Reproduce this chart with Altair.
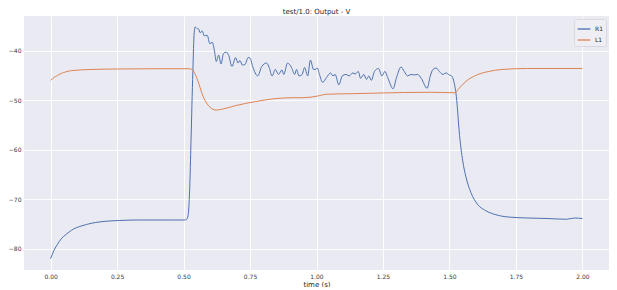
import altair as alt
import pandas as pd

r1_t = [0.000, 0.013, 0.026, 0.040, 0.056, 0.070, 0.087, 0.110, 0.135, 0.170, 0.209, 0.260, 0.330, 0.400,
        0.452, 0.505, 0.511, 0.517, 0.523, 0.528, 0.535, 0.540, 0.544, 0.550, 0.556, 0.563, 0.570, 0.578,
        0.589, 0.599, 0.608, 0.617, 0.623, 0.632, 0.641, 0.650, 0.660, 0.670, 0.682, 0.696, 0.705, 0.712,
        0.721, 0.731, 0.743, 0.750, 0.760, 0.779, 0.794, 0.812, 0.822, 0.833, 0.845, 0.857, 0.870, 0.877,
        0.891, 0.906, 0.918, 0.925, 0.934, 0.946, 0.955, 0.967, 0.977, 0.989, 0.995, 1.003, 1.011, 1.023,
        1.038, 1.053, 1.062, 1.070, 1.084, 1.097, 1.111, 1.123, 1.136, 1.146, 1.157, 1.166, 1.178, 1.188,
        1.197, 1.206, 1.218, 1.233, 1.246, 1.257, 1.269, 1.288, 1.300, 1.318, 1.330, 1.343, 1.355, 1.367,
        1.380, 1.394, 1.416, 1.428, 1.438, 1.450, 1.462, 1.475, 1.487, 1.499, 1.508, 1.516, 1.526, 1.538,
        1.550, 1.562, 1.581, 1.605, 1.636, 1.672, 1.721, 1.794, 1.867, 1.940, 1.971, 2.000]
r1_v = [-82.0, -80.3, -79.1, -78.0, -77.2, -76.6, -76.0, -75.5, -75.1, -74.7, -74.45, -74.3, -74.2, -74.2,
        -74.2, -74.2, -74.1, -73.3, -68.1, -58.4, -44.2, -36.4, -35.2, -35.5, -35.6, -36.4, -36.0, -37.0,
        -36.9, -38.6, -38.3, -40.3, -42.2, -40.9, -42.7, -40.6, -40.3, -41.0, -43.2, -41.4, -42.5, -42.0,
        -42.9, -42.8, -41.4, -41.5, -43.2, -45.1, -43.2, -42.5, -43.4, -45.1, -43.8, -44.8, -43.9, -44.8,
        -42.5, -43.4, -44.8, -43.8, -45.1, -44.8, -43.4, -45.1, -41.9, -43.8, -43.8, -43.5, -44.8, -46.4,
        -45.4, -44.5, -45.1, -44.8, -46.9, -45.1, -44.8, -45.1, -44.5, -44.7, -44.2, -45.6, -44.8, -45.8,
        -45.1, -46.0, -44.2, -43.6, -45.1, -44.2, -45.6, -47.7, -45.6, -43.3, -44.2, -45.1, -44.8, -44.9,
        -44.8, -45.6, -47.6, -45.1, -43.8, -43.5, -44.2, -44.8, -44.5, -44.9, -45.1, -46.1, -49.3, -57.1,
        -62.3, -65.5, -68.7, -71.0, -72.3, -73.1, -73.6, -73.8, -73.9, -74.05, -73.8, -73.9]

l1_t = [0.000, 0.013, 0.026, 0.040, 0.056, 0.070, 0.087, 0.148, 0.260, 0.400, 0.520, 0.532, 0.549, 0.574,
        0.599, 0.623, 0.647, 0.696, 0.769, 0.843, 0.916, 0.950, 1.001, 1.038, 1.123, 1.245, 1.331, 1.428,
        1.520, 1.538, 1.562, 1.599, 1.648, 1.697, 1.794, 2.000]
l1_v = [-46.0, -45.4, -45.0, -44.6, -44.3, -44.1, -44.0, -43.8, -43.7, -43.65, -43.65, -43.8, -45.4, -49.3,
        -51.4, -52.0, -51.8, -51.1, -50.3, -49.7, -49.5, -49.5, -49.2, -48.8, -48.7, -48.55, -48.45, -48.4,
        -48.5, -47.5, -46.2, -45.0, -44.2, -43.8, -43.6, -43.6]

series = ["R1", "L1"]
colors = ["#4C72B0", "#DD8452"]
x_ticks = [0.0, 0.25, 0.5, 0.75, 1.0, 1.25, 1.5, 1.75, 2.0]
y_ticks = [-80, -70, -60, -50, -40]

df = pd.concat([
    pd.DataFrame({"t": r1_t, "v": r1_v, "s": "R1", "o": range(len(r1_t))}),
    pd.DataFrame({"t": l1_t, "v": l1_v, "s": "L1", "o": range(len(l1_t))}),
])

chart = alt.Chart(df).mark_line(strokeWidth=1.0, interpolate="monotone").encode(
    x=alt.X("t:Q", title="time (s)",
            scale=alt.Scale(domain=[-0.1, 2.1], nice=False, zero=False),
            axis=alt.Axis(values=x_ticks, format=".2f")),
    y=alt.Y("v:Q", title=None,
            scale=alt.Scale(domain=[-84.3, -33.0], nice=False, zero=False),
            axis=alt.Axis(values=y_ticks, format="d")),
    color=alt.Color("s:N", scale=alt.Scale(domain=series, range=colors),
                    legend=alt.Legend(title=None, orient="top-right", symbolType="stroke",
                                      symbolStrokeWidth=1.3, symbolSize=160, labelFontSize=6,
                                      labelColor="#262626", fillColor="#EEEEF4", strokeColor="#D8D8E0",
                                      padding=3, offset=3, rowPadding=1, cornerRadius=2)),
    detail="s:N",
    order="o:Q",
).properties(
    width=601, height=279,
    autosize=alt.AutoSizeParams(type="fit", contains="padding"),
    padding=0,
    title=alt.Title("test/1.0: Output - V", fontSize=7, fontWeight="normal", color="#262626", offset=1),
).configure(
    font="DejaVu Sans",
).configure_view(
    fill="#EAEAF2", strokeWidth=0,
).configure_axis(
    domain=False, ticks=False, grid=True, gridColor="white", gridWidth=0.9,
    labelFontSize=6, labelColor="#3a3a3a", labelPadding=3,
    titleFontSize=7, titleFontWeight="normal", titleColor="#262626", titlePadding=1,
)

chart.save("out.html", embed_options={"renderer": "svg", "actions": False})
